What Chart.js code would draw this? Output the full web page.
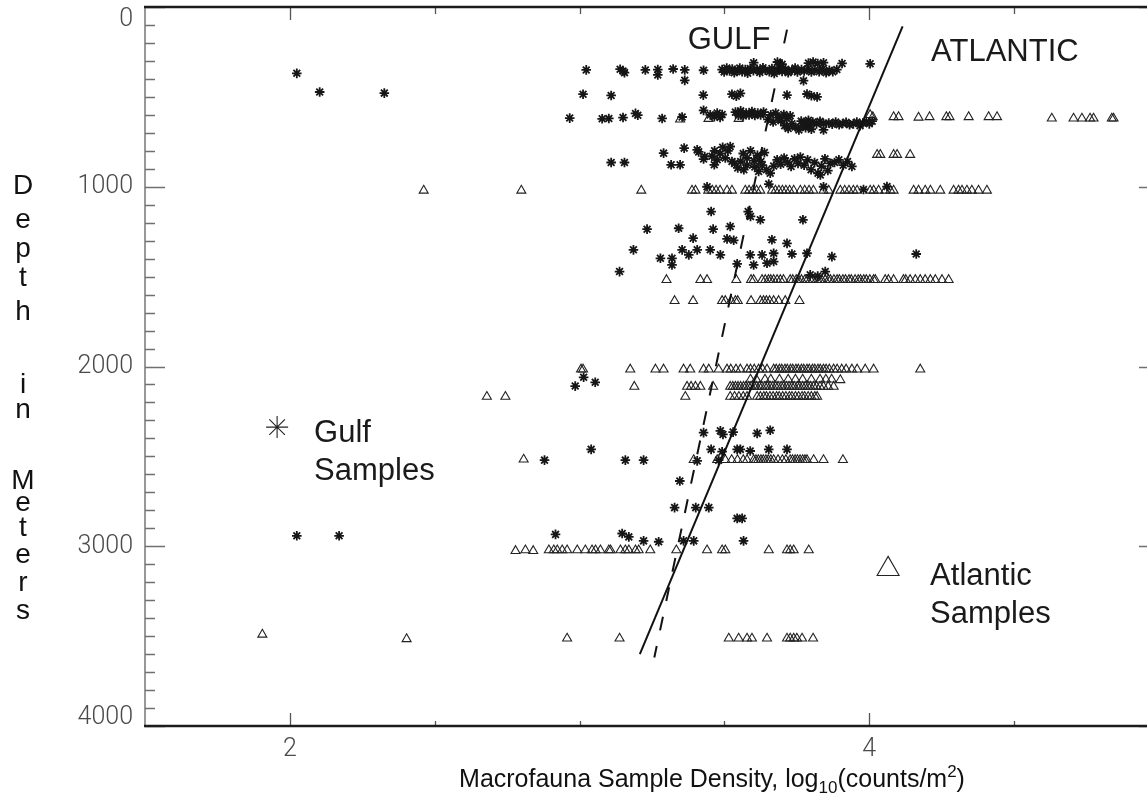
<!DOCTYPE html>
<html>
<head>
<meta charset="utf-8">
<script src="https://cdn.jsdelivr.net/npm/chart.js@4.4.1/dist/chart.umd.min.js"></script>
<style>
  html, body { margin: 0; padding: 0; background: #fff; overflow: hidden; }
  #wrap { position: relative; width: 1170px; height: 801px; }
</style>
</head>
<body>
<div id="wrap"><canvas id="depthChart"></canvas></div>
<script>
// each sample: [log10 density, depth in m]
const gulfSamples = [
  // shallow strays on the left
  [2.024, 369], [2.103, 473], [2.326, 479],
  // ~350 m band
  [3.023, 350], [3.140, 346], [3.150, 356], [3.155, 365], [3.227, 350], [3.270, 348], [3.270, 378],
  [3.323, 345], [3.363, 350], [3.363, 408], [3.428, 352],
  [3.492, 348], [3.499, 362], [3.508, 340], [3.518, 356], [3.527, 345], [3.534, 366], [3.546, 352],
  [3.553, 340], [3.561, 360], [3.572, 348], [3.580, 368], [3.589, 342], [3.600, 355], [3.613, 346],
  [3.622, 364], [3.633, 338], [3.641, 352], [3.655, 360], [3.664, 342], [3.672, 370], [3.683, 350],
  [3.690, 336], [3.699, 358], [3.711, 346], [3.720, 366], [3.733, 352], [3.744, 340], [3.752, 362],
  [3.766, 348], [3.775, 356], [3.788, 344], [3.800, 362], [3.812, 350], [3.827, 360], [3.838, 346],
  [3.851, 366], [3.862, 352], [3.874, 360], [3.888, 348],
  [3.601, 310], [3.683, 306], [3.699, 318], [3.790, 312], [3.806, 306], [3.822, 314], [3.842, 310],
  [3.906, 314], [4.003, 316], [3.773, 410],
  // ~490 m
  [3.012, 485], [3.109, 492], [3.427, 490], [3.526, 485], [3.541, 496], [3.555, 480], [3.716, 490],
  [3.785, 484], [3.800, 494], [3.820, 500],
  // ~570-690 m
  [2.966, 618], [3.078, 622], [3.101, 620], [3.150, 615], [3.193, 592], [3.201, 602], [3.285, 620],
  [3.354, 612], [3.428, 575], [3.451, 600], [3.465, 610], [3.475, 590], [3.485, 614], [3.492, 598],
  [3.538, 585], [3.548, 602], [3.556, 578], [3.565, 606], [3.575, 590], [3.585, 600], [3.595, 582],
  [3.605, 604], [3.615, 590], [3.625, 600], [3.635, 585],
  [3.650, 625], [3.660, 600], [3.668, 640], [3.677, 590], [3.686, 615], [3.695, 632], [3.705, 598],
  [3.715, 620], [3.727, 605],
  [3.708, 660], [3.720, 676], [3.733, 650], [3.745, 668], [3.757, 684], [3.769, 660], [3.780, 672],
  [3.792, 655], [3.800, 680],
  [3.765, 635], [3.778, 645], [3.790, 630], [3.805, 640], [3.818, 650], [3.830, 636], [3.842, 648],
  [3.842, 684],
  [3.860, 645], [3.872, 652], [3.884, 640], [3.896, 655], [3.908, 648], [3.920, 642], [3.932, 655],
  [3.945, 650], [3.957, 640], [3.968, 660], [3.978, 645], [3.990, 638], [4.000, 650], [4.010, 635],
  // ~780-930 m
  [3.109, 865], [3.155, 865], [3.290, 813], [3.361, 785], [3.316, 878], [3.347, 878], [3.406, 795],
  [3.411, 806], [3.428, 846], [3.432, 832], [3.465, 878],
  [3.457, 830], [3.466, 800], [3.475, 850], [3.485, 815], [3.494, 780], [3.503, 840], [3.512, 800],
  [3.520, 776], [3.526, 860],
  [3.535, 870], [3.546, 895], [3.556, 860], [3.567, 905], [3.578, 880],
  [3.565, 815], [3.578, 840], [3.590, 800], [3.602, 855], [3.614, 825], [3.626, 860], [3.638, 810],
  [3.605, 890], [3.618, 915], [3.630, 880], [3.645, 905], [3.658, 925], [3.670, 885],
  [3.682, 850], [3.694, 875], [3.706, 840], [3.718, 865], [3.730, 887], [3.742, 845], [3.754, 870],
  [3.762, 835],
  [3.775, 880], [3.787, 850], [3.799, 905], [3.811, 865], [3.823, 925], [3.835, 885], [3.847, 845],
  [3.857, 910], [3.865, 870], [3.831, 934],
  [3.880, 865], [3.895, 850], [3.910, 880], [3.925, 860], [3.940, 887],
  // ~1000 m
  [3.440, 1000], [3.653, 985], [3.842, 1000], [3.980, 1015], [4.061, 999],
  // 1130-1500 m
  [3.454, 1138], [3.582, 1138], [3.590, 1165], [3.624, 1184], [3.771, 1184], [3.233, 1236],
  [3.342, 1231], [3.461, 1236], [3.520, 1221], [3.392, 1286], [3.509, 1290], [3.532, 1298],
  [3.664, 1295], [3.716, 1315],
  [3.186, 1351], [3.279, 1398], [3.319, 1398], [3.319, 1435], [3.354, 1351], [3.377, 1379],
  [3.406, 1351], [3.451, 1351], [3.486, 1379], [3.589, 1379], [3.630, 1379], [3.670, 1370],
  [3.670, 1416], [3.647, 1425], [3.733, 1374], [3.785, 1370], [3.871, 1389], [4.162, 1374],
  [3.544, 1429], [3.601, 1435], [3.138, 1472], [3.848, 1472], [3.796, 1490], [3.822, 1497],
  // ~2100 m
  [3.014, 2060], [2.985, 2109], [3.054, 2088],
  // 2350-2480 m
  [3.428, 2368], [3.486, 2358], [3.495, 2378], [3.530, 2365], [3.613, 2372], [3.658, 2355],
  [3.040, 2461], [3.454, 2461], [3.492, 2474], [3.544, 2461], [3.555, 2461], [3.589, 2470],
  [3.653, 2461], [3.716, 2461],
  // ~2520 m and deeper
  [2.879, 2521], [3.158, 2521], [3.221, 2521], [3.406, 2525], [3.480, 2521],
  [3.346, 2637],
  [3.328, 2785], [3.401, 2785], [3.446, 2785],
  [3.544, 2845], [3.561, 2845],
  [2.917, 2934], [3.147, 2929], [3.170, 2948], [3.221, 2970], [3.273, 2975], [3.359, 2970],
  [3.394, 2970], [3.566, 2970],
  [2.024, 2942], [2.170, 2942]
];

const atlanticSamples = [
  // ~610 m
  [3.347, 625], [3.445, 622], [3.549, 622], [4.003, 600], [4.012, 612], [4.084, 612], [4.101, 612],
  [4.170, 615], [4.208, 612], [4.266, 612], [4.277, 612], [4.343, 612], [4.412, 612], [4.441, 612],
  [4.630, 620], [4.705, 620], [4.734, 620], [4.762, 620], [4.774, 620], [4.837, 620], [4.843, 620],
  // ~820 m
  [4.027, 822], [4.038, 822], [4.084, 822], [4.096, 822], [4.141, 822],
  // ~1020 m
  [2.462, 1021], [2.799, 1021], [3.213, 1021], [3.388, 1021], [3.400, 1021], [3.444, 1021],
  [3.458, 1021], [3.471, 1021], [3.485, 1021], [3.509, 1021], [3.526, 1021], [3.572, 1021],
  [3.585, 1021], [3.598, 1021], [3.611, 1021], [3.624, 1021], [3.664, 1021], [3.676, 1021],
  [3.688, 1021], [3.700, 1021], [3.712, 1021], [3.725, 1021], [3.739, 1021], [3.762, 1021],
  [3.777, 1021], [3.792, 1021], [3.807, 1021], [3.842, 1021], [3.860, 1021], [3.900, 1021],
  [3.915, 1021], [3.930, 1021], [3.945, 1021], [3.958, 1021], [4.003, 1021], [4.015, 1021],
  [4.032, 1021], [4.055, 1021], [4.073, 1021], [4.084, 1021], [4.153, 1021], [4.170, 1021],
  [4.193, 1021], [4.211, 1021], [4.245, 1021], [4.291, 1021], [4.308, 1021], [4.320, 1021],
  [4.337, 1021], [4.354, 1021], [4.377, 1021], [4.406, 1021],
  // ~1520 m
  [3.300, 1518], [3.417, 1518], [3.440, 1518], [3.541, 1518], [3.592, 1518], [3.601, 1518],
  [3.630, 1518], [3.641, 1518], [3.652, 1518], [3.660, 1518], [3.670, 1518], [3.682, 1518],
  [3.693, 1518], [3.704, 1518], [3.727, 1518], [3.736, 1518], [3.748, 1518], [3.755, 1518],
  [3.766, 1518], [3.778, 1518], [3.786, 1518], [3.797, 1518], [3.805, 1518], [3.818, 1518],
  [3.829, 1518], [3.836, 1518], [3.848, 1518], [3.859, 1518], [3.866, 1518], [3.878, 1518],
  [3.889, 1518], [3.897, 1518], [3.909, 1518], [3.918, 1518], [3.930, 1518], [3.938, 1518],
  [3.951, 1518], [3.962, 1518], [3.970, 1518], [3.981, 1518], [3.990, 1518], [4.002, 1518],
  [4.015, 1518], [4.021, 1518], [4.055, 1518], [4.066, 1518], [4.084, 1518], [4.118, 1518],
  [4.126, 1518], [4.141, 1518], [4.159, 1518], [4.176, 1518], [4.193, 1518], [4.211, 1518],
  [4.228, 1518], [4.251, 1518], [4.274, 1518],
  // ~1635 m
  [3.328, 1635], [3.392, 1635], [3.492, 1635], [3.503, 1635], [3.523, 1635], [3.538, 1635],
  [3.546, 1635], [3.592, 1635], [3.624, 1635], [3.635, 1635], [3.645, 1635], [3.656, 1635],
  [3.670, 1635], [3.687, 1635], [3.710, 1635], [3.759, 1635],
  // ~2020 m
  [3.005, 2016], [3.012, 2016], [3.175, 2016], [3.262, 2016], [3.290, 2016], [3.359, 2016],
  [3.382, 2016], [3.428, 2016], [3.446, 2016], [3.480, 2016], [3.509, 2016], [3.522, 2016],
  [3.540, 2016], [3.555, 2016], [3.578, 2016], [3.590, 2016], [3.603, 2016], [3.618, 2016],
  [3.632, 2016], [3.647, 2016], [3.670, 2016], [3.679, 2016], [3.690, 2016], [3.698, 2016],
  [3.709, 2016], [3.717, 2016], [3.728, 2016], [3.736, 2016], [3.747, 2016], [3.755, 2016],
  [3.766, 2016], [3.774, 2016], [3.785, 2016], [3.793, 2016], [3.804, 2016], [3.812, 2016],
  [3.823, 2016], [3.831, 2016], [3.842, 2016], [3.851, 2016], [3.862, 2016], [3.877, 2016],
  [3.889, 2016], [3.905, 2016], [3.920, 2016], [3.940, 2016], [3.958, 2016], [3.986, 2016],
  [4.015, 2016], [4.176, 2016],
  // ~2070 m
  [3.590, 2072], [3.610, 2072], [3.640, 2072], [3.660, 2072], [3.690, 2072], [3.720, 2072],
  [3.745, 2072], [3.770, 2072], [3.800, 2072], [3.830, 2072], [3.850, 2072], [3.870, 2072],
  [3.900, 2075],
  // ~2110 m
  [3.189, 2112], [3.371, 2112], [3.385, 2112], [3.400, 2112], [3.417, 2112], [3.461, 2112],
  [3.520, 2112], [3.529, 2112], [3.538, 2112], [3.547, 2112], [3.556, 2112], [3.566, 2112],
  [3.574, 2112], [3.584, 2112], [3.592, 2112], [3.603, 2112], [3.611, 2112], [3.621, 2112],
  [3.629, 2112], [3.640, 2112], [3.648, 2112], [3.658, 2112], [3.667, 2112], [3.677, 2112],
  [3.685, 2112], [3.696, 2112], [3.704, 2112], [3.714, 2112], [3.723, 2112], [3.733, 2112],
  [3.741, 2112], [3.752, 2112], [3.760, 2112], [3.770, 2112], [3.779, 2112], [3.789, 2112],
  [3.797, 2112], [3.808, 2112], [3.818, 2112], [3.830, 2112], [3.842, 2112], [3.858, 2112],
  [3.877, 2112],
  // ~2170 m
  [2.680, 2168], [2.744, 2168], [3.365, 2168], [3.520, 2168], [3.535, 2168], [3.550, 2168],
  [3.565, 2168], [3.578, 2168], [3.613, 2168], [3.624, 2168], [3.636, 2168], [3.645, 2168],
  [3.657, 2168], [3.668, 2168], [3.680, 2168], [3.689, 2168], [3.701, 2168], [3.712, 2168],
  [3.724, 2168], [3.733, 2168], [3.745, 2168], [3.756, 2168], [3.768, 2168], [3.777, 2168],
  [3.789, 2168], [3.800, 2168], [3.812, 2168], [3.820, 2168],
  // ~2520 m
  [2.807, 2517], [3.394, 2520], [3.475, 2520], [3.503, 2520], [3.525, 2520], [3.545, 2520],
  [3.565, 2520], [3.578, 2520], [3.601, 2520], [3.609, 2520], [3.617, 2520], [3.626, 2520],
  [3.634, 2520], [3.643, 2520], [3.651, 2520], [3.660, 2520], [3.670, 2520], [3.685, 2520],
  [3.700, 2520], [3.712, 2520], [3.727, 2520], [3.735, 2520], [3.744, 2520], [3.752, 2520],
  [3.761, 2520], [3.770, 2520], [3.778, 2520], [3.785, 2520], [3.808, 2520], [3.842, 2520],
  [3.909, 2520],
  // ~3020 m
  [2.779, 3026], [2.813, 3022], [2.840, 3026], [2.894, 3022], [2.911, 3022], [2.923, 3022],
  [2.940, 3022], [2.957, 3022], [2.992, 3022], [3.020, 3022], [3.043, 3022], [3.055, 3022],
  [3.072, 3022], [3.101, 3022], [3.107, 3022], [3.141, 3022], [3.158, 3022], [3.170, 3022],
  [3.193, 3022], [3.204, 3022], [3.244, 3022], [3.334, 3022], [3.440, 3022], [3.492, 3022],
  [3.503, 3022], [3.653, 3022], [3.716, 3022], [3.727, 3022], [3.739, 3022], [3.791, 3022],
  // ~3515 m
  [1.905, 3491], [2.403, 3516], [2.957, 3513], [3.138, 3513], [3.515, 3513], [3.549, 3513],
  [3.578, 3513], [3.595, 3513], [3.647, 3513], [3.716, 3513], [3.727, 3513], [3.739, 3513],
  [3.750, 3513], [3.768, 3513], [3.806, 3513]
];

// fitted lines, end points
const gulfFit = [[3.716, 126], [3.258, 3619]];
const atlanticFit = [[4.115, 108], [3.208, 3600]];

const xTicks = [2, 2.5, 3, 3.5, 4, 4.5];
const xMajor = [2, 4];
const yLabels = [0, 1000, 2000, 3000, 4000];

const yTitle = "Depth in Meters";
// baselines of the stacked y-title letters
const yTitleBase = [194, 228, 257, 286, 320, 356, 393, 418, 452, 489, 511, 536, 563, 591, 619];

const toPoints = arr => arr.map(p => ({ x: p[0], y: p[1] }));

const SANS = "'Liberation Sans', Arial, Helvetica, sans-serif";
const LIGHT = "300 25px Roboto, 'DejaVu Sans', sans-serif";

function marker(ctx, style, r, lw, x, y) {
  ctx.save();
  ctx.strokeStyle = "#222";
  ctx.fillStyle = "rgba(0,0,0,0)";
  ctx.lineWidth = lw;
  if (Chart.helpers && Chart.helpers.drawPoint) {
    Chart.helpers.drawPoint(ctx, { pointStyle: style, radius: r, borderWidth: lw, rotation: 0 }, x, y);
  }
  ctx.restore();
}

const frame = {
  id: "frame",
  afterDraw(chart) {
    const { ctx, chartArea: a, scales: { x, y } } = chart;
    ctx.save();

    // y ticks on both sides, pointing inwards
    ctx.strokeStyle = "#707070";
    ctx.lineWidth = 1.3;
    ctx.beginPath();
    for (let d = 0; d <= 4000; d += 100) {
      const py = Math.round(y.getPixelForValue(d)) + 0.5;
      const len = d % 1000 === 0 ? 20 : 10;
      ctx.moveTo(a.left, py); ctx.lineTo(a.left + len, py);
      ctx.moveTo(a.right, py); ctx.lineTo(a.right - len, py);
    }
    ctx.stroke();

    // x ticks top and bottom
    ctx.strokeStyle = "#555";
    ctx.beginPath();
    xTicks.forEach(v => {
      const px = Math.round(x.getPixelForValue(v)) + 0.5;
      const major = xMajor.includes(v);
      ctx.moveTo(px, a.top); ctx.lineTo(px, a.top + (major ? 13 : 7));
      ctx.moveTo(px, a.bottom); ctx.lineTo(px, a.bottom - (major ? 13 : 5));
    });
    ctx.stroke();

    // box
    ctx.strokeStyle = "#777";
    ctx.lineWidth = 1.5;
    ctx.beginPath();
    ctx.moveTo(a.left, a.top); ctx.lineTo(a.left, a.bottom);
    ctx.moveTo(a.right, a.top); ctx.lineTo(a.right, a.bottom);
    ctx.stroke();
    ctx.strokeStyle = "#1c1c1c";
    ctx.lineWidth = 2.5;
    ctx.beginPath();
    ctx.moveTo(a.left - 1, a.top); ctx.lineTo(a.right, a.top);
    ctx.moveTo(a.left - 1, a.bottom); ctx.lineTo(a.right, a.bottom);
    ctx.stroke();

    // tick labels
    ctx.fillStyle = "#4a4a4a";
    ctx.font = LIGHT;
    ctx.textAlign = "right";
    ctx.textBaseline = "middle";
    yLabels.forEach(d => {
      const py = Math.min(Math.max(y.getPixelForValue(d), a.top + 13), a.bottom - 8);
      ctx.fillText(String(d), a.left - 12, py);
    });
    ctx.textAlign = "center";
    xMajor.forEach(v => ctx.fillText(String(v), x.getPixelForValue(v), a.bottom + 24));

    // y title, one letter per line
    ctx.fillStyle = "#111";
    ctx.font = "28px " + SANS;
    ctx.textBaseline = "alphabetic";
    yTitle.split("").forEach((ch, i) => {
      if (ch !== " ") ctx.fillText(ch, 23, yTitleBase[i]);
    });

    // x title with sub/superscript
    const parts = [
      ["Macrofauna Sample Density, log", 25, 0],
      ["10", 17, 6],
      ["(counts/m", 25, 0],
      ["2", 17, -10],
      [")", 25, 0]
    ];
    let total = 0;
    parts.forEach(p => { ctx.font = p[1] + "px " + SANS; total += ctx.measureText(p[0]).width; });
    let tx = 712 - total / 2;
    const tb = 787;
    ctx.textAlign = "left";
    parts.forEach(p => {
      ctx.font = p[1] + "px " + SANS;
      ctx.fillText(p[0], tx, tb + p[2]);
      tx += ctx.measureText(p[0]).width;
    });

    // line labels
    ctx.font = "31px " + SANS;
    ctx.fillStyle = "#1a1a1a";
    ctx.textAlign = "center";
    ctx.fillText("GULF", x.getPixelForValue(3.516), y.getPixelForValue(170) + 11);
    ctx.fillText("ATLANTIC", x.getPixelForValue(4.468), y.getPixelForValue(242) + 11);

    // legend
    const gx = x.getPixelForValue(1.956), gy = y.getPixelForValue(2337);
    marker(ctx, "star", 11, 1.1, gx, gy);
    ctx.textAlign = "left";
    ctx.fillText("Gulf", gx + 37, gy + 15);
    ctx.fillText("Samples", gx + 37, gy + 53);

    const ax = x.getPixelForValue(4.065), ay = y.getPixelForValue(3127);
    marker(ctx, "triangle", 12.7, 1.1, ax, ay);
    ctx.fillText("Atlantic", ax + 42, ay + 16);
    ctx.fillText("Samples", ax + 42, ay + 54);

    ctx.restore();
  }
};

new Chart(document.getElementById("depthChart"), {
  type: "scatter",
  data: {
    datasets: [
      {
        label: "GULF",
        data: toPoints(gulfFit),
        showLine: true,
        borderColor: "#111",
        borderWidth: 2,
        borderDash: [14, 16],
        pointRadius: 0
      },
      {
        label: "ATLANTIC",
        data: toPoints(atlanticFit),
        showLine: true,
        borderColor: "#111",
        borderWidth: 2,
        pointRadius: 0
      },
      {
        label: "Gulf Samples",
        data: toPoints(gulfSamples),
        pointStyle: "star",
        pointRadius: 4.8,
        borderColor: "#161616",
        backgroundColor: "#161616",
        borderWidth: 1.8
      },
      {
        label: "Atlantic Samples",
        data: toPoints(atlanticSamples),
        pointStyle: "triangle",
        pointRadius: 5.2,
        borderColor: "#222",
        backgroundColor: "rgba(0,0,0,0)",
        borderWidth: 1.1
      }
    ]
  },
  options: {
    responsive: true,
    maintainAspectRatio: false,
    animation: false,
    events: [],
    layout: { padding: { left: 145, top: 7, right: 11, bottom: 75 } },
    plugins: {
      legend: { display: false },
      tooltip: { enabled: false }
    },
    scales: {
      x: { type: "linear", display: false, min: 1.5, max: 5 },
      y: { type: "linear", display: false, min: 0, max: 4000, reverse: true }
    }
  },
  plugins: [frame]
});
</script>
</body>
</html>
